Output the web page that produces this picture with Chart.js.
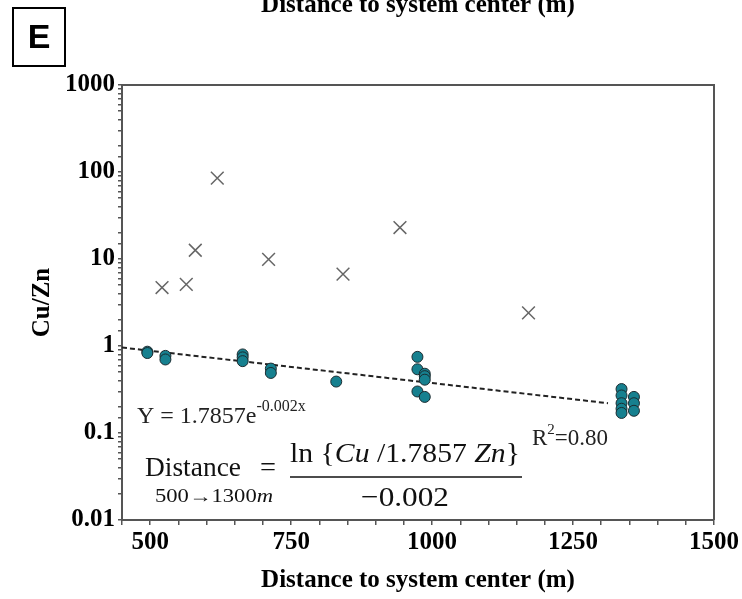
<!DOCTYPE html>
<html>
<head>
<meta charset="utf-8">
<script src="https://cdn.jsdelivr.net/npm/chart.js@4.4.1/dist/chart.umd.min.js"></script>
<style>
  body { margin: 0; background: #fff; }
  canvas { display: block; }
</style>
</head>
<body>
<canvas id="cuznChart" width="742" height="599"></canvas>
<script>
// outlier samples (grey crosses)
const crossX = [521, 564, 580, 619, 710, 842, 943, 1171];
const crossY = [4.7, 5.1, 12.6, 85, 9.9, 6.7, 23, 2.4];

// samples used for the fit (teal circles)
const dotX = [495, 495, 527, 527, 664, 664, 664, 714, 714, 830,
              974, 974, 974, 987, 987, 987, 987,
              1336, 1336, 1336, 1336, 1336, 1358, 1358, 1358];
const dotY = [0.86, 0.83, 0.77, 0.70, 0.80, 0.74, 0.67, 0.55, 0.49, 0.39,
              0.75, 0.54, 0.30, 0.48, 0.45, 0.41, 0.26,
              0.32, 0.27, 0.22, 0.19, 0.17, 0.26, 0.22, 0.18];

// fitted trend line end points
const fitX = [450, 1312];
const fitY = [0.96, 0.22];

const xTicks = [500, 750, 1000, 1250, 1500];
const yTicks = [0.01, 0.1, 1, 10, 100, 1000];

const serif = "'Liberation Serif', 'Times New Roman', serif";
const axisCol = "#555";

const pts = (xs, ys) => xs.map((x, i) => ({ x: x, y: ys[i] }));

// draw a run of [text, fontStyle] pieces squeezed/stretched to a given width
function fitRun(ctx, parts, size, x, y, width) {
    let total = 0;
    parts.forEach(p => {
        ctx.font = p[1] + size + "px " + serif;
        total += ctx.measureText(p[0]).width;
    });
    const k = width / total;
    ctx.save();
    ctx.translate(x, y);
    ctx.scale(k, 1);
    let cx = 0;
    parts.forEach(p => {
        ctx.font = p[1] + size + "px " + serif;
        ctx.fillText(p[0], cx, 0);
        cx += ctx.measureText(p[0]).width;
    });
    ctx.restore();
}

const overlay = {
    id: "overlay",
    afterDraw(chart) {
        const ctx = chart.ctx;
        const a = chart.chartArea;
        ctx.save();

        // frame on top and right
        ctx.strokeStyle = axisCol;
        ctx.lineWidth = 2;
        ctx.beginPath();
        ctx.moveTo(a.left, a.top);
        ctx.lineTo(a.right, a.top);
        ctx.lineTo(a.right, a.bottom);
        ctx.stroke();

        // panel letter
        ctx.strokeStyle = "#000";
        ctx.strokeRect(13, 8, 52, 58);
        ctx.fillStyle = "#000";
        ctx.font = "bold 34px 'Liberation Sans', Arial, sans-serif";
        ctx.textAlign = "center";
        ctx.textBaseline = "middle";
        ctx.fillText("E", 39, 39);

        // cut-off heading from the panel above
        ctx.textBaseline = "alphabetic";
        ctx.font = "bold 25px " + serif;
        ctx.fillText("Distance to system center (m)", 418, 12);

        // fit equation
        ctx.textAlign = "left";
        ctx.fillStyle = "#222";
        ctx.font = "24px " + serif;
        ctx.fillText("Y = 1.7857e", 137, 423);
        let w = ctx.measureText("Y = 1.7857e").width;
        ctx.font = "16px " + serif;
        ctx.fillText("-0.002x", 137 + w, 411);

        ctx.font = "23px " + serif;
        ctx.fillText("R", 532, 445);
        w = ctx.measureText("R").width;
        ctx.font = "15px " + serif;
        ctx.fillText("2", 532 + w, 434);
        let w2 = ctx.measureText("2").width;
        ctx.font = "23px " + serif;
        ctx.fillText("=0.80", 532 + w + w2, 445);

        // inverted formula
        ctx.fillStyle = "#111";
        fitRun(ctx, [["Distance", ""]], 28, 145, 476, 96);
        fitRun(ctx, [["=", ""]], 28, 260, 476, 16);
        fitRun(ctx, [["500\u21921300", ""], ["m", "italic "]], 18, 155, 502, 118);
        fitRun(ctx, [["ln", ""], [" {", ""], ["Cu", "italic "], [" /1.7857 ", ""], ["Zn", "italic "], ["}", ""]],
               28, 290, 462, 230);
        ctx.strokeStyle = "#111";
        ctx.lineWidth = 1.5;
        ctx.beginPath();
        ctx.moveTo(290, 477);
        ctx.lineTo(522, 477);
        ctx.stroke();
        fitRun(ctx, [["\u22120.002", ""]], 28, 361, 506, 88);

        ctx.restore();
    }
};

new Chart(document.getElementById("cuznChart"), {
    type: "scatter",
    data: {
        datasets: [
            {
                data: pts(fitX, fitY),
                showLine: true,
                borderColor: "#222",
                borderWidth: 2,
                borderDash: [5, 3],
                pointRadius: 0,
                order: 3
            },
            {
                data: pts(crossX, crossY),
                pointStyle: "crossRot",
                pointRadius: 9,
                borderColor: "#666",
                borderWidth: 1.5,
                order: 2
            },
            {
                data: pts(dotX, dotY),
                pointRadius: 5.5,
                backgroundColor: "#16808f",
                borderColor: "#1b2b30",
                borderWidth: 1,
                order: 1
            }
        ]
    },
    options: {
        responsive: false,
        animation: false,
        layout: { padding: { left: 24, right: 0, top: 85, bottom: 1 } },
        plugins: {
            legend: { display: false },
            tooltip: { enabled: false }
        },
        scales: {
            x: {
                type: "linear",
                min: 450,
                max: 1500,
                grid: { drawOnChartArea: false, tickLength: 5, color: axisCol, lineWidth: 1.5 },
                border: { color: axisCol, width: 2 },
                ticks: {
                    stepSize: 50,
                    autoSkip: false,
                    maxRotation: 0,
                    color: "#000",
                    padding: 3,
                    font: { family: serif, size: 25, weight: "bold" },
                    callback: (v) => xTicks.includes(v) ? String(v) : ""
                },
                title: {
                    display: true,
                    text: "Distance to system center (m)",
                    color: "#000",
                    padding: { top: 5, bottom: 2 },
                    font: { family: serif, size: 25, weight: "bold" }
                }
            },
            y: {
                type: "logarithmic",
                min: 0.01,
                max: 1000,
                grid: { drawOnChartArea: false, tickLength: 4, color: axisCol, lineWidth: 1.5 },
                border: { color: axisCol, width: 2 },
                ticks: {
                    autoSkip: false,
                    color: "#000",
                    padding: 3,
                    font: { family: serif, size: 25, weight: "bold" },
                    callback: (v) => yTicks.some(t => Math.abs(t - v) / t < 1e-6) ? String(v) : ""
                },
                title: {
                    display: true,
                    text: "Cu/Zn",
                    color: "#000",
                    font: { family: serif, size: 25, weight: "bold" }
                }
            }
        }
    },
    plugins: [overlay]
});
</script>
</body>
</html>
